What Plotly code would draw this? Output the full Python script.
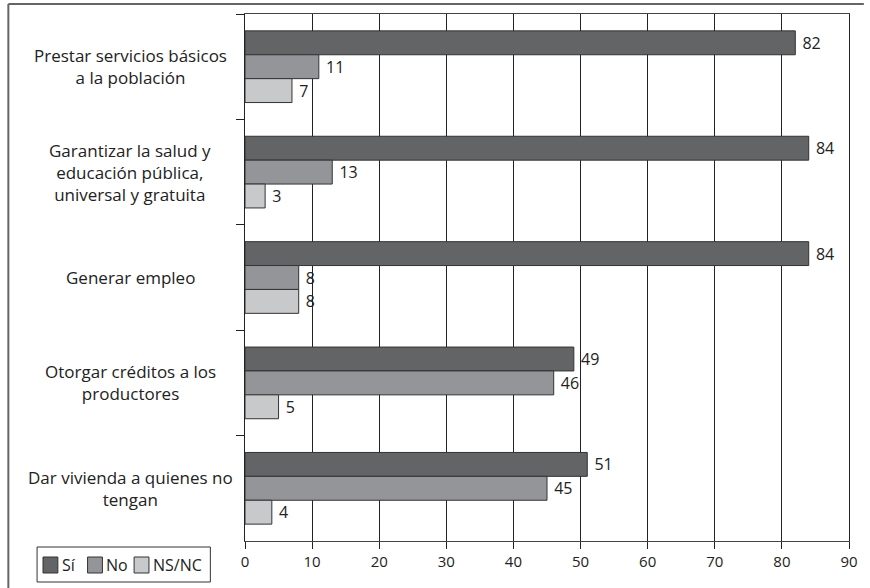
import plotly.graph_objects as go

categories = [
    "Prestar servicios básicos<br>a la población",
    "Garantizar la salud y<br>educación pública,<br>universal y gratuita",
    "Generar empleo",
    "Otorgar créditos a los<br>productores",
    "Dar vivienda a quienes no<br>tengan",
]
series_names = ["Sí", "No", "NS/NC"]
si = [82, 84, 84, 49, 51]
no = [11, 13, 8, 46, 45]
nsnc = [7, 3, 8, 5, 4]
x_ticks = [0, 10, 20, 30, 40, 50, 60, 70, 80, 90]

colors = ["#636466", "#939598", "#c8c9cb"]
FONT = "Open Sans"
W, H = 870, 588
L, R, T, B = 245, 15, 14, 47

def px_x(p):  # pixel -> paper x
    return (p - L) / (W - L - R)

def px_y(p):  # pixel -> paper y
    return (H - B - p) / (H - T - B)

fig = go.Figure()
for name, vals, c in zip(series_names, [si, no, nsnc], colors):
    fig.add_trace(go.Bar(
        y=categories, x=vals, name=name, orientation="h",
        marker=dict(color=c, line=dict(color="#333333", width=1)),
        text=vals, texttemplate=" %{text}", textposition="outside", cliponaxis=False,
        textfont=dict(family=FONT, size=16, color="#222222"),
    ))

fig.update_layout(
    width=W, height=H, barmode="group", bargap=0.32, bargroupgap=0,
    margin=dict(l=L, r=R, t=T, b=B),
    plot_bgcolor="white", paper_bgcolor="white",
    showlegend=False, font=dict(family=FONT, color="#222222"),
)
fig.update_xaxes(
    range=[0, 90], tickvals=x_ticks, showgrid=True, gridcolor="#222222", gridwidth=1,
    showline=True, linecolor="#444444", linewidth=1, mirror=True,
    ticks="outside", ticklen=7, tickcolor="#222222",
    tickfont=dict(family=FONT, size=15, color="#222222"), zeroline=False,
)
fig.update_yaxes(
    autorange="reversed", showticklabels=False, tickson="boundaries",
    ticks="outside", ticklen=8, tickcolor="#222222",
    showline=True, linecolor="#222222", linewidth=1, mirror=True, showgrid=False,
)

# centred category labels
for cat in categories:
    fig.add_annotation(
        x=px_x(129), xref="paper", y=cat, yref="y", text=cat, showarrow=False,
        xanchor="center", yanchor="middle", align="center",
        font=dict(family=FONT, size=17, color="#222222"),
    )

# outer frame (top + left edges)
fig.add_shape(type="line", xref="paper", yref="paper", x0=px_x(6), x1=px_x(870),
              y0=px_y(4), y1=px_y(4), line=dict(color="#666666", width=2))
fig.add_shape(type="line", xref="paper", yref="paper", x0=px_x(6), x1=px_x(6),
              y0=px_y(4), y1=px_y(588), line=dict(color="#666666", width=2))

# legend box
fig.add_shape(type="rect", xref="paper", yref="paper", x0=px_x(35), x1=px_x(210),
              y0=px_y(547), y1=px_y(582), line=dict(color="#333333", width=1))
leg_x = [41, 86, 133]
for name, c, lx in zip(series_names, colors, leg_x):
    fig.add_shape(type="rect", xref="paper", yref="paper", x0=px_x(lx), x1=px_x(lx + 15),
                  y0=px_y(557), y1=px_y(573), fillcolor=c, line=dict(color="#333333", width=1))
    fig.add_annotation(x=px_x(lx + 17), xref="paper", y=px_y(565), yref="paper", text=name,
                       showarrow=False, xanchor="left", yanchor="middle",
                       font=dict(family=FONT, size=16, color="#222222"))

# page body has a default 8px margin; drop it so the figure sits at the window origin
fig.write_html("out.html", config={"displayModeBar": False},
               post_script="document.body.style.margin='0';")
